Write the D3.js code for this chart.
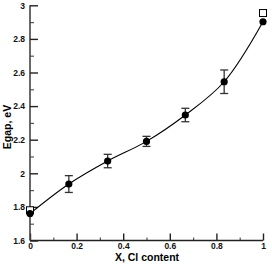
<!DOCTYPE html>
<html lang="en">
  <head>
    <meta charset="utf-8">
    <script src="https://cdn.jsdelivr.net/npm/d3@7"></script>
    <style>
      body { margin: 0; background: #fff; }
      text { font-family: "Liberation Sans", Arial, sans-serif; font-weight: bold; }
    </style>
  </head>
  <body>
    <script type="text/javascript">
      // data
      var xs = [0, 1/6, 1/3, 1/2, 2/3, 5/6, 1];
      var egap = [1.76, 1.936, 2.073, 2.19, 2.347, 2.545, 2.902];
      var err = [0, 0.05, 0.04, 0.03, 0.04, 0.07, 0];
      var sqX = [0, 1];
      var sqY = [1.78, 2.954];
      var xTicks = [0, 0.2, 0.4, 0.6, 0.8, 1];
      var yTicks = [1.6, 1.8, 2, 2.2, 2.4, 2.6, 2.8, 3];

      var svgWidth = 272, svgHeight = 266;

      var svg = d3.select("body")
        .append("svg")
        .attr("width", svgWidth)
        .attr("height", svgHeight);

      var x = d3.scaleLinear().domain([0, 1]).range([30, 263]);
      var y = d3.scaleLinear().domain([1.6, 3]).range([240.5, 5.3]);

      // minor ticks
      var xMinor = d3.range(0.1, 1, 0.2);
      var yMinor = d3.range(1.7, 3, 0.2);

      svg.append("g")
        .attr("transform", "translate(0,240.5)")
        .call(d3.axisTop(x).tickValues(xMinor).tickSize(3).tickFormat(""))
        .call(g => g.select(".domain").remove())
        .call(g => g.selectAll("line").attr("stroke", "#555").attr("stroke-width", 1.2));
      svg.append("g")
        .attr("transform", "translate(30,0)")
        .call(d3.axisRight(y).tickValues(yMinor).tickSize(4).tickFormat(""))
        .call(g => g.select(".domain").remove())
        .call(g => g.selectAll("line").attr("stroke", "#555").attr("stroke-width", 1.2));

      // x axis
      var xAxis = svg.append("g")
        .attr("transform", "translate(0,240.5)")
        .call(d3.axisTop(x).tickValues(xTicks).tickSize(7).tickFormat(d3.format("")));
      xAxis.select(".domain").attr("d", "M30,0H263").attr("stroke", "#222").attr("stroke-width", 1.6);
      xAxis.selectAll("line").attr("stroke", "#222").attr("stroke-width", 1.4);
      xAxis.selectAll("text").attr("y", 8).attr("dy", 0).attr("font-size", 8.5).attr("fill", "#111");

      // y axis
      var yAxis = svg.append("g")
        .attr("transform", "translate(30,0)")
        .call(d3.axisRight(y).tickValues(yTicks).tickSize(8).tickFormat(d3.format("")));
      yAxis.select(".domain").attr("d", "M0,240.5V5.3").attr("stroke", "#444").attr("stroke-width", 1.6);
      yAxis.selectAll("line").attr("stroke", "#222").attr("stroke-width", 1.4);
      yAxis.selectAll("text").attr("x", -5).attr("text-anchor", "end")
        .attr("font-size", 8.5).attr("fill", "#111");

      // titles
      svg.append("text")
        .attr("x", 147).attr("y", 261)
        .attr("text-anchor", "middle")
        .attr("font-size", 10.5)
        .text("X, Cl content");
      svg.append("text")
        .attr("transform", "translate(11,127) rotate(-90)")
        .attr("text-anchor", "middle")
        .attr("font-size", 10.5)
        .text("Egap, eV");

      var pts = xs.map((d, i) => ({x: d, y: egap[i], e: err[i]}));

      // fitted curve
      var line = d3.line()
        .x(d => x(d.x))
        .y(d => y(d.y))
        .curve(d3.curveCatmullRom.alpha(0.5));
      svg.append("path")
        .datum(pts)
        .attr("d", line)
        .attr("fill", "none")
        .attr("stroke", "#000")
        .attr("stroke-width", 1.1);

      // error bars
      var eb = svg.selectAll(".eb")
        .data(pts.filter(d => d.e > 0))
        .enter().append("g")
        .attr("stroke", "#333")
        .attr("stroke-width", 1.3);
      eb.append("line")
        .attr("x1", d => x(d.x)).attr("x2", d => x(d.x))
        .attr("y1", d => y(d.y - d.e)).attr("y2", d => y(d.y + d.e));
      eb.append("line")
        .attr("x1", d => x(d.x) - 4).attr("x2", d => x(d.x) + 4)
        .attr("y1", d => y(d.y - d.e)).attr("y2", d => y(d.y - d.e));
      eb.append("line")
        .attr("x1", d => x(d.x) - 4).attr("x2", d => x(d.x) + 4)
        .attr("y1", d => y(d.y + d.e)).attr("y2", d => y(d.y + d.e));

      // open squares
      svg.selectAll(".sq")
        .data(sqX)
        .enter().append("rect")
        .attr("x", (d, i) => x(d) - 3.5)
        .attr("y", (d, i) => y(sqY[i]) - 3.5)
        .attr("width", 7).attr("height", 7)
        .attr("fill", "#fff")
        .attr("stroke", "#000")
        .attr("stroke-width", 1);

      // filled points
      svg.selectAll(".pt")
        .data(pts)
        .enter().append("circle")
        .attr("cx", d => x(d.x))
        .attr("cy", d => y(d.y))
        .attr("r", 3.6)
        .attr("fill", "#000");
    </script>
  </body>
</html>
